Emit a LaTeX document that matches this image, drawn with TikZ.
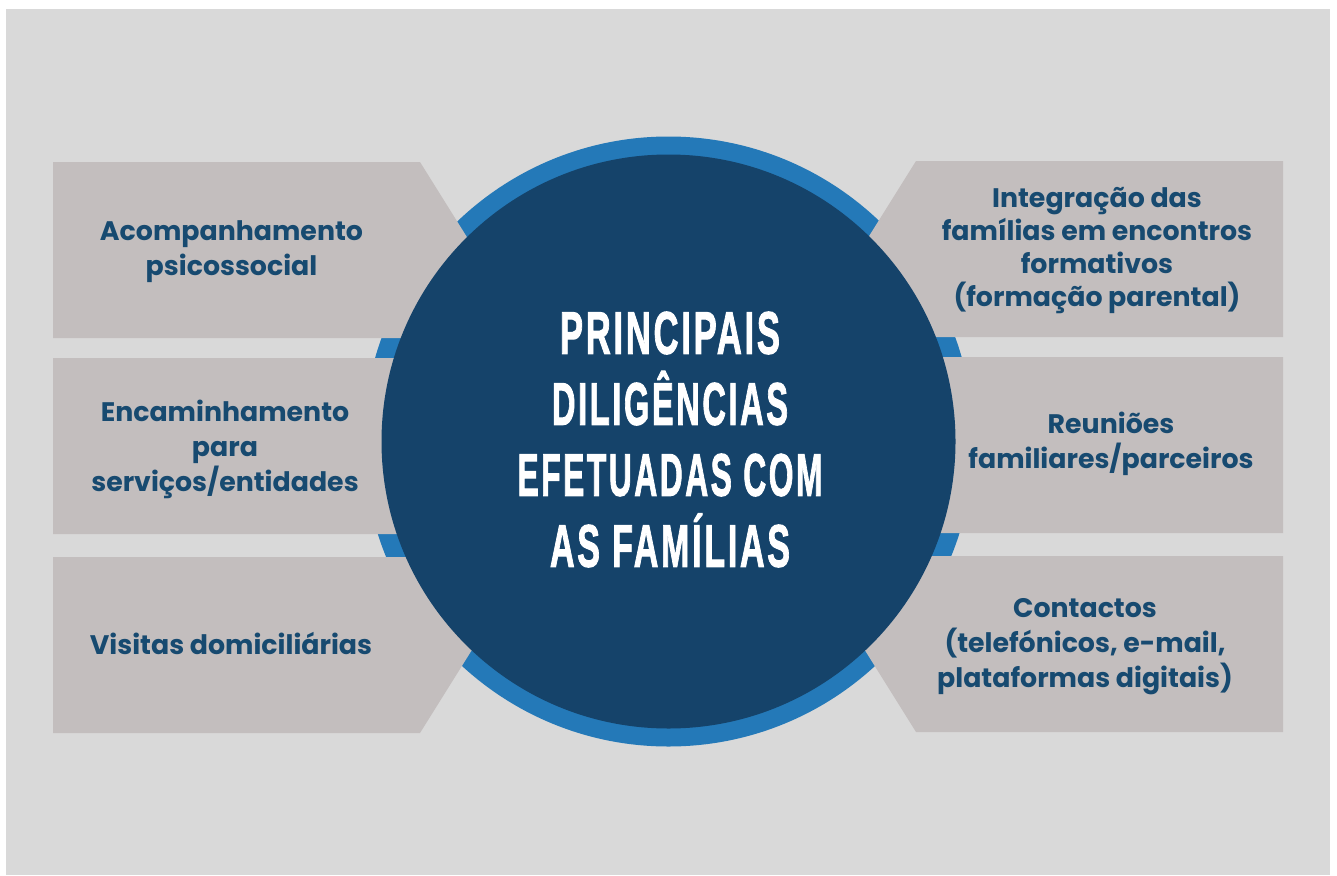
\documentclass[tikz,border=0pt]{standalone}
\usepackage{fontspec}
\usepackage{graphicx}
\setmainfont{Poppins}
\newfontfamily\titlefont{Liberation Sans}[LetterSpace=8, BoldFeatures={FakeBold=2}]
\definecolor{bgc}{HTML}{D9D9D9}
\definecolor{ringc}{HTML}{2479B8}
\definecolor{darkc}{HTML}{15436A}
\definecolor{boxc}{HTML}{C3BEBE}
\definecolor{txtc}{HTML}{174A70}
\tikzset{
  itemtext/.style={text=txtc, align=center, inner sep=0pt,
    font=\bfseries\fontsize{26.8}{35}\selectfont},
  itembox/.style={fill=boxc},
  titletext/.style={text=white, align=center, inner sep=0pt,
    font=\titlefont\bfseries\fontsize{60}{71}\selectfont}
}
\begin{document}
\begin{tikzpicture}[x=1pt,y=-1pt]
\useasboundingbox (0,0) rectangle (1337,875);
\fill[white] (0,0) rectangle (1337,875);
\fill[bgc] (6,9) rectangle (1330,875);
% ring
\fill[ringc] (668.5,441.5) circle[radius=305pt];
% left boxes
\fill[itembox] (53,162) -- (420,162) -- (475,250) -- (420,338) -- (53,338) -- cycle;
\fill[itembox] (53,358) -- (420,358) -- (475,446) -- (420,534) -- (53,534) -- cycle;
\fill[itembox] (53,557) -- (420,557) -- (475,645) -- (420,733) -- (53,733) -- cycle;
% right boxes
\fill[itembox] (1283,161) -- (916,161) -- (861,249) -- (916,337) -- (1283,337) -- cycle;
\fill[itembox] (1283,357) -- (916,357) -- (861,445) -- (916,533) -- (1283,533) -- cycle;
\fill[itembox] (1283,556) -- (916,556) -- (861,644) -- (916,732) -- (1283,732) -- cycle;
% hub
\fill[darkc] (668.5,441.5) circle[radius=287pt];
\node[titletext] (title) at (670,439.5) {%
\resizebox{220pt}{\height}{PRINCIPAIS}\\
\resizebox{236pt}{\height}{DILIGÊNCIAS}\\
\resizebox{305pt}{\height}{EFETUADAS COM}\\
\resizebox{240pt}{\height}{AS FAMÍLIAS}};
% texts
\node[itemtext] (l1) at (231.5,252) {Acompanhamento\\psicossocial};
\node[itemtext] (l2) at (225,449) {Encaminhamento\\para\\serviços/entidades};
\node[itemtext] (l3) at (231,643) {Visitas domiciliárias};
\node[itemtext, font=\bfseries\fontsize{26.8}{33}\selectfont] (r1) at (1097,251) {Integração das\\famílias em encontros\\formativos\\(formação parental)};
\node[itemtext] (r2) at (1111,444) {Reuniões\\familiares/parceiros};
\node[itemtext] (r3) at (1085,646.5) {Contactos\\(telefónicos, e-mail,\\plataformas digitais)};
\end{tikzpicture}
\end{document}
